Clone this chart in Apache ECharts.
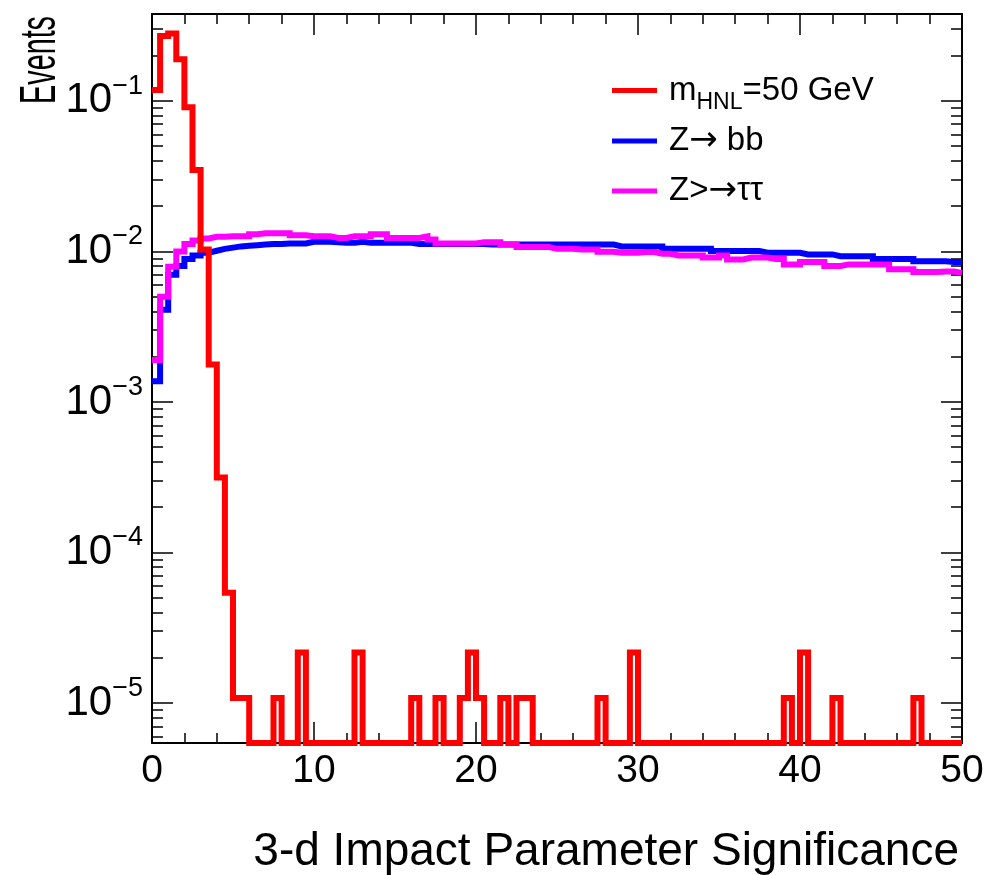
<!DOCTYPE html>
<html><head><meta charset="utf-8">
<script src="https://cdn.jsdelivr.net/npm/echarts@6/dist/echarts.min.js"></script>
<style>html,body{margin:0;padding:0;background:#fff}#c{width:987px;height:875px}</style>
</head><body><div id="c"></div>
<script>
// ---- data ----
const xMin = 0, xMax = 50, binWidth = 0.5;
const yMin = 5.42e-6, yMax = 0.378;
const xTickLabels = [0, 10, 20, 30, 40, 50];
const yMajorTicks = [1e-5, 1e-4, 1e-3, 1e-2, 1e-1];
const seriesNames = ['m_HNL=50 GeV', 'Z\u2192 bb', 'Z>\u2192\u03c4\u03c4'];
const xTitle = '3-d Impact Parameter Significance';
const yTitle = 'Events';

const hnl = [
 0.118,0.27,0.28,0.189,0.0908,0.0348,0.0103,0.00177,3.15e-4,5.4e-5,
 1.08e-5,1.08e-5,0,0,0,1.08e-5,0,0,2.16e-5,0,
 0,0,0,0,0,2.16e-5,0,0,0,0,
 0,0,1.08e-5,0,0,1.08e-5,0,0,1.08e-5,2.16e-5,
 1.08e-5,0,0,1.08e-5,0,1.08e-5,1.08e-5,0,0,0,
 0,0,0,0,0,1.08e-5,0,0,0,2.16e-5,
 0,0,0,0,0,0,0,0,0,0,
 0,0,0,0,0,0,0,0,1.08e-5,0,
 2.16e-5,0,0,0,1.08e-5,0,0,0,0,0,
 0,0,0,0,1.08e-5,0,0,0,0,0
];
const zbb = [
 0.00137,0.0041,0.0070,0.0080,0.0089,0.0094,0.0098,0.0101,0.0104,0.0106,
 0.0108,0.0109,0.0110,0.0111,0.0112,0.0112,0.0113,0.0113,0.0113,0.0116,
 0.0116,0.0116,0.0115,0.0114,0.0114,0.0116,0.0114,0.0114,0.0114,0.0114,
 0.0114,0.0114,0.0112,0.0112,0.0112,0.0112,0.0112,0.0112,0.0112,0.0112,
 0.0112,0.0111,0.0111,0.0111,0.0111,0.0111,0.0111,0.0111,0.0111,0.0111,
 0.0111,0.0111,0.0111,0.0111,0.0111,0.0111,0.0111,0.0108,0.0108,0.0108,
 0.0108,0.0108,0.0108,0.0104,0.0104,0.0104,0.0104,0.0104,0.0104,0.01005,
 0.01005,0.01005,0.01005,0.01005,0.01005,0.0098,0.0098,0.0098,0.0098,0.0098,
 0.00955,0.00955,0.00955,0.00955,0.0093,0.0093,0.0093,0.0093,0.0093,0.0089,
 0.0089,0.0089,0.0089,0.0089,0.0086,0.0086,0.0086,0.0086,0.0085,0.0085
];
const ztautau = [
 0.0019,0.0050,0.0079,0.0100,0.0112,0.0118,0.0122,0.0125,0.0125,0.0126,
 0.0126,0.0126,0.0130,0.0132,0.0132,0.0132,0.0132,0.0128,0.0128,0.0126,
 0.0126,0.0126,0.0123,0.0123,0.0126,0.0126,0.0126,0.0130,0.0130,0.0123,
 0.0123,0.0123,0.0123,0.0126,0.0120,0.0113,0.0113,0.0113,0.0113,0.0113,
 0.0115,0.0115,0.0115,0.0111,0.0111,0.0107,0.0107,0.0107,0.0107,0.0104,
 0.01042,0.01042,0.0103,0.0103,0.0103,0.00995,0.00995,0.0098,0.0098,0.0098,
 0.0099,0.0099,0.00965,0.00965,0.0094,0.0094,0.0094,0.0094,0.0091,0.0091,
 0.0094,0.00885,0.00885,0.0091,0.0091,0.0091,0.0089,0.0089,0.0082,0.0082,
 0.0085,0.0085,0.0085,0.0080,0.0080,0.0082,0.0082,0.0082,0.0082,0.0082,
 0.0082,0.0076,0.0076,0.0076,0.0073,0.0073,0.0073,0.00735,0.00735,0.0072
];
const colors = ['#ff0000', '#0000ff', '#ff00ff'];

// ---- build ----
const FONT = '"Liberation Sans", Arial, Helvetica, sans-serif';
const ARROWFONT = '"DejaVu Sans", sans-serif';
function histPoints(vals) {
  const pts = vals.map((v, k) => [xMin + k * binWidth, Math.max(v, yMin)]);
  pts.push([xMin + vals.length * binWidth, Math.max(vals[vals.length - 1], yMin)]);
  return pts;
}
const yMinorTicks = [];
for (let d = -6; d <= -1; d++) for (let m = 2; m <= 9; m++) {
  const v = m * Math.pow(10, d);
  if (v > yMin && v < yMax) yMinorTicks.push(v);
}
const black = '#000';
function yAx(pos, ticks, len, line, labels) {
  return {
    type: 'log', logBase: 10, min: yMin, max: yMax, position: pos,
    axisLine: { show: line, lineStyle: { color: black, width: 2 } },
    axisTick: { show: true, inside: true, length: len, customValues: ticks, lineStyle: { color: black, width: 1.5 } },
    axisLabel: labels ? {
      show: true, customValues: ticks, margin: 9,
      formatter: v => '{b|10}{e|\u2212' + Math.round(-Math.log10(v)) + '}',
      rich: {
        b: { fontSize: 42, lineHeight: 56, fontFamily: FONT, color: black },
        e: { fontSize: 27, lineHeight: 27, verticalAlign: 'top', fontFamily: FONT, color: black }
      }
    } : { show: false },
    splitLine: { show: false }, minorSplitLine: { show: false }
  };
}
function xAx(pos, labels) {
  return {
    type: 'value', min: xMin, max: xMax, interval: 10, position: pos,
    axisLine: { show: true, onZero: false, lineStyle: { color: black, width: 2 } },
    axisTick: { show: true, inside: true, length: 21, lineStyle: { color: black, width: 1.5 } },
    minorTick: { show: true, splitNumber: 5, length: 10, lineStyle: { color: black, width: 1.5 } },
    axisLabel: labels ? {
      show: true, margin: 9, fontSize: 39, fontFamily: FONT, color: black,
      customValues: xTickLabels
    } : { show: false },
    splitLine: { show: false }, minorSplitLine: { show: false }
  };
}
const names = seriesNames;
const dataSets = [hnl, zbb, ztautau];
const zs = [5, 3, 4];
const series = dataSets.map((d, i) => ({
  name: names[i], type: 'line', step: 'end', data: histPoints(d),
  xAxisIndex: 0, yAxisIndex: 0, symbol: 'none', showSymbol: false,
  clip: false, z: zs[i],
  lineStyle: { color: colors[i], width: 6, join: 'miter', cap: 'butt' },
  itemStyle: { color: colors[i] }
}));
function legendLabel(n) {
  if (n === names[0]) return '{n|m}{s|HNL}{n|=50 GeV}';
  const parts = n.split('\u2192');
  return '{n|' + parts[0] + '}{a|\u2192}{n|' + parts[1] + '}';
}

const chart = echarts.init(document.getElementById('c'), null, { renderer: 'canvas' });
chart.setOption({
  animation: false,
  backgroundColor: '#fff',
  grid: { left: 152, right: 25, top: 14, bottom: 132, containLabel: false },
  xAxis: [xAx('bottom', true), xAx('top', false)],
  yAxis: [
    yAx('left', yMajorTicks, 21, true, true),
    yAx('left', yMinorTicks, 11, false, false),
    yAx('right', yMajorTicks, 21, true, false),
    yAx('right', yMinorTicks, 11, false, false)
  ],
  legend: {
    orient: 'vertical', left: 607, top: 62, icon: 'rect',
    itemWidth: 45, itemHeight: 5, itemGap: 4,
    data: names,
    formatter: legendLabel,
    textStyle: {
      color: black, fontFamily: FONT, fontSize: 33, lineHeight: 46, padding: [0, 0, 0, 7],
      rich: {
        n: { fontSize: 33, lineHeight: 46, fontFamily: FONT, color: black },
        a: { fontSize: 34, lineHeight: 46, fontFamily: ARROWFONT, color: black },
        s: { fontSize: 23, lineHeight: 22, padding: [24, 0, 0, 0], fontFamily: FONT, color: black }
      }
    }
  },
  graphic: [
    { type: 'text', x: 959, y: 829, style: { text: xTitle, font: '46px ' + FONT, fill: black, textAlign: 'right', textVerticalAlign: 'top' } },
    { type: 'text', x: 16, y: 16, rotation: Math.PI / 2, scaleX: 0.575, scaleY: 1,
      style: { text: yTitle, font: '50px ' + FONT, fill: black, textAlign: 'right', textVerticalAlign: 'top' } }
  ],
  series: series
});
</script></body></html>
